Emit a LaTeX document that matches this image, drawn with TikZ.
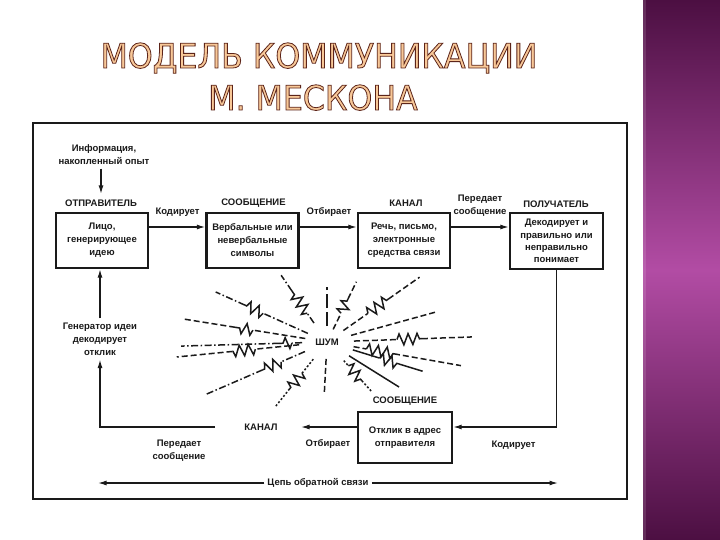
\documentclass[tikz,border=0pt]{standalone}
\usepackage{fontspec}
\setmainfont{Liberation Sans}
\newfontfamily\titlefont[FakeStretch=0.93]{DejaVu Sans}
\usetikzlibrary{arrows.meta,calc,decorations.pathmorphing}
\definecolor{plumdark}{HTML}{4C0F42}
\definecolor{plummid}{HTML}{B24CA4}
\definecolor{titlefill}{HTML}{F8C898}
\definecolor{ink}{HTML}{1A1A1A}
\tikzset{
  lbl/.style={font=\fontsize{9.5}{13}\selectfont\bfseries, text=ink, inner sep=1pt, align=center},
  box/.style={lbl, draw=ink, line width=2.4pt, minimum width=92pt, minimum height=55pt},
  arr/.style={draw=ink, line width=1.3pt, -{Latex[length=8.5pt,width=5pt]}},
  ttl/.style={font=\titlefont\fontsize{34}{40}\selectfont, text=titlefill, inner sep=0pt, anchor=base},
  rbase/.style={draw=ink, line width=1.5pt},
  rdash/.style={rbase, dash pattern=on 6pt off 3pt},
  rdd/.style={rbase, dash pattern=on 7pt off 2.5pt on 1.5pt off 2.5pt},
  rdot/.style={rbase, dash pattern=on 2pt off 2pt},
  rlong/.style={rbase, dash pattern=on 14pt off 4pt},
  rsolid/.style={rbase},
  zz/.style={rbase, decorate, decoration={zigzag, segment length=9pt, amplitude=5.5pt}}
}
\newcommand\outlined[1]{\special{pdf:literal direct 0.36 0.14 0.10 RG 0.8 w 2 Tr}#1\special{pdf:literal direct 0 Tr}}
\newcommand\nray[4]{%
  \draw[#1] ($(noise.center)+(#2:#3)$) -- ($(noise.center)+(#2:#4)$);}
\newcommand\zray[6]{%
  \draw[#1] ($(noise.center)+(#2:#3)$) -- ($(noise.center)+(#2:#4)$);
  \draw[zz] ($(noise.center)+(#2:#4)$) -- ($(noise.center)+(#2:#5)$);
  \draw[#1] ($(noise.center)+(#2:#5)$) -- ($(noise.center)+(#2:#6)$);}
\begin{document}
\begin{tikzpicture}[x=1pt,y=-1pt]
\useasboundingbox (0,0) rectangle (720,540);
\fill[white] (0,0) rectangle (720,540);
% purple band
\shade[top color=plumdark, bottom color=plumdark, middle color=plummid] (643,0) rectangle (720,540);
\fill[white, opacity=0.12] (643,0) rectangle (646,540);
% title
\node[ttl] (title1) at (319,68) {\outlined{МОДЕЛЬ КОММУНИКАЦИИ}};
\node[ttl] (title2) at (313,110) {\outlined{М. МЕСКОНА}};
% frame
\draw[ink, line width=1.5pt] (33,123) rectangle (627,499);
% top row
\node[lbl] (info) at (104,154.5) {Информация,\\накопленный опыт};
\node[lbl] (sendhead) at (101,203.5) {ОТПРАВИТЕЛЬ};
\node[box] (sender) at (102,240.5) {Лицо,\\генерирующее\\идею};
\node[lbl] (msghead) at (253.5,203.5) {СООБЩЕНИЕ};
\node[box] (msg) at (252.5,240.5) {Вербальные или\\невербальные\\символы};
\node[lbl] (chanhead) at (406,203.5) {КАНАЛ};
\node[box] (chan) at (404,240.5) {Речь, письмо,\\электронные\\средства связи};
\node[lbl] (recvhead) at (556,204) {ПОЛУЧАТЕЛЬ};
\node[box, minimum width=93pt, minimum height=56pt, font=\fontsize{9.5}{12.3}\selectfont\bfseries] (recv) at (556.5,241) {Декодирует и\\правильно или\\неправильно\\понимает};
\node[lbl] (encode) at (177.5,212) {Кодирует};
\node[lbl] (select) at (329,212) {Отбирает};
\node[lbl] (transmit) at (480,206) {Передает\\сообщение};
\draw[arr, shorten <=3pt, shorten >=5pt] (info.south -| sendhead.north) -- (sendhead.north);
\draw[arr] ([yshift=13.5pt]sender.east) -- ([yshift=13.5pt]msg.west);
\draw[arr] ([yshift=13.5pt]msg.east) -- ([yshift=13.5pt]chan.west);
\draw[arr] ([yshift=13.5pt]chan.east) -- ([yshift=13.5pt]recv.west |- chan.east);
% noise
\node[lbl] (noise) at (327,342) {ШУМ};
\zray{rdd}{-124.5}{23}{35}{62}{81}
\nray{rlong}{-90}{16}{55}
\zray{rdash}{-64}{14}{32}{48}{67}
\zray{rdash}{-35}{20}{50}{75}{113}
\nray{rdash}{-15.4}{25}{113}
\zray{rdash}{-2}{27}{70}{95}{145}
\zray{rdash}{10}{27}{40}{68}{136}
\zray{rsolid}{17}{27}{55}{75}{100}
\nray{rsolid}{32}{26}{85}
\zray{rdot}{48}{25}{32}{52}{67}
\nray{rdash}{93}{17}{52}
\zray{rdot}{128.6}{22}{40}{60}{82}
\zray{rdd}{156.6}{24}{50}{70}{131}
\zray{rdash}{174.3}{28}{72}{95}{151}
\zray{rdd}{178.4}{25}{35}{48}{146}
\zray{rdash}{-170.9}{22}{75}{93}{145}
\zray{rdd}{-155.8}{21}{70}{90}{122}
% bottom row
\node[lbl] (resphead) at (405,401.5) {СООБЩЕНИЕ};
\node[box, minimum width=94pt, minimum height=51pt] (resp) at (405,437.5) {Отклик в адрес\\отправителя};
\node[lbl] (encode2) at (513.5,445) {Кодирует};
\node[lbl] (select2) at (328,443.5) {Отбирает};
\node[lbl] (chan2) at (261,427) {КАНАЛ};
\node[lbl] (transmit2) at (179,450.5) {Передает\\сообщение};
\node[lbl] (gen) at (100,339) {Генератор идеи\\декодирует\\отклик};
\coordinate (fbtip) at (301,427);
\coordinate (fbstart) at (215,427);
\draw[arr] (recv.south) |- ([yshift=10.5pt]resp.east);
\draw[arr] ([yshift=10.5pt]resp.west) -- (fbtip);
\draw[arr, shorten >=3pt] (fbstart) -| (gen.south);
\draw[arr, shorten <=3pt] (gen.north) -- (gen.north |- sender.south);
% feedback loop
\node[lbl, inner sep=3pt] (feedback) at (318,483) {Цепь обратной связи};
\coordinate (fbleft) at (98,483);
\coordinate (fbright) at (558,483);
\draw[arr] (feedback.west) -- (fbleft);
\draw[arr] (feedback.east) -- (fbright);
\end{tikzpicture}
\end{document}
